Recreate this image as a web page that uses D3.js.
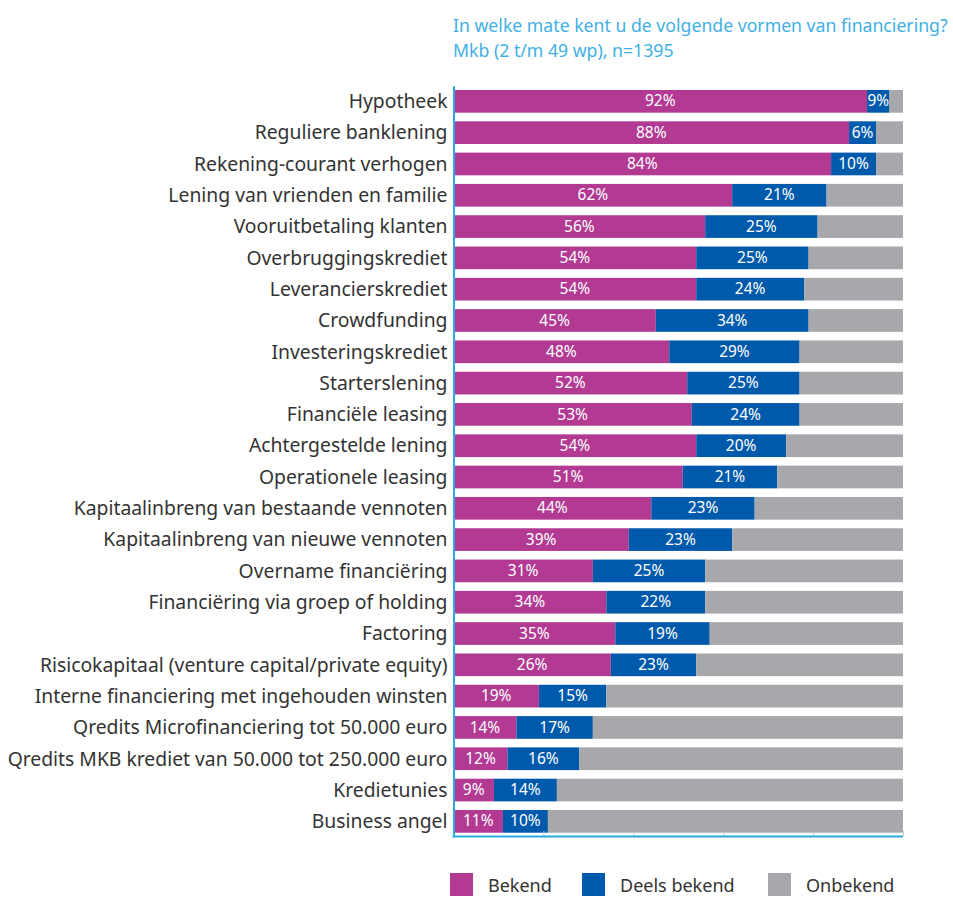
<!DOCTYPE html>
<html><head><meta charset="utf-8">
<script src="https://cdn.jsdelivr.net/npm/d3@7"></script>
<style>body{margin:0;background:#fff}svg{display:block}</style>
</head><body>
<svg id="c" width="953" height="898"></svg>
<script>
const categories = ["Hypotheek","Reguliere banklening","Rekening-courant verhogen","Lening van vrienden en familie","Vooruitbetaling klanten","Overbruggingskrediet","Leverancierskrediet","Crowdfunding","Investeringskrediet","Starterslening","Financiële leasing","Achtergestelde lening","Operationele leasing","Kapitaalinbreng van bestaande vennoten","Kapitaalinbreng van nieuwe vennoten","Overname financiëring","Financiëring via groep of holding","Factoring","Risicokapitaal (venture capital/private equity)","Interne financiering met ingehouden winsten","Qredits Microfinanciering tot 50.000 euro","Qredits MKB krediet van 50.000 tot 250.000 euro","Kredietunies","Business angel"];
// bar lengths as drawn in the picture
const bekend = [92,88,84,62,56,54,54,45,48,52,53,54,51,44,39,31,34,36,35,19,14,12,9,11];
const deels  = [5,6,10,21,25,25,24,34,29,25,24,20,21,23,23,25,22,21,19,15,17,16,14,10];
// printed labels as shown in the picture
const bekendLabels = ["92%","88%","84%","62%","56%","54%","54%","45%","48%","52%","53%","54%","51%","44%","39%","31%","34%","35%","26%","19%","14%","12%","9%","11%"];
const deelsLabels  = ["9%","6%","10%","21%","25%","25%","24%","34%","29%","25%","24%","20%","21%","23%","23%","25%","22%","19%","23%","15%","17%","16%","14%","10%"];
const seriesNames = ["Bekend","Deels bekend","Onbekend"];
const xTicks = [0,20,40,60,80,100];
const titleLines = ["In welke mate kent u de volgende vormen van financiering?","Mkb (2 t/m 49 wp), n=1395"];

const colors = ["#b23a93","#005aab","#a7a8ab"];
const svg = d3.select("#c");
const font = "'Noto Sans', 'Open Sans', sans-serif";

const x = d3.scaleLinear().domain([0,100]).range([453.5,903]);
const y = d3.scaleBand().domain(categories).range([85.7,837]).paddingInner(0.275).paddingOuter(0.1375);

const rows = categories.map((c,i)=>({cat:c, b:bekend[i], d:deels[i], o:100-bekend[i]-deels[i], bl:bekendLabels[i], dl:deelsLabels[i]}));

// title
const tg = svg.append("g");
titleLines.forEach((t,i)=>{
  tg.append("text").attr("x",453).attr("y",32+i*25).attr("fill","#3fb0e4")
    .attr("font-family",font).attr("font-size",17).attr("font-weight",400).text(t);
});
{
  const n = tg.select("text").node(); const w = n.getComputedTextLength();
  const fs = 17*495/w; tg.selectAll("text").attr("font-size",fs);
}

// bars
const g = svg.append("g");
const segs = [];
rows.forEach(r=>{
  segs.push({cat:r.cat,x0:0,x1:r.b,c:0,label:r.bl});
  segs.push({cat:r.cat,x0:r.b,x1:r.b+r.d,c:1,label:r.dl});
  segs.push({cat:r.cat,x0:r.b+r.d,x1:100,c:2,label:null});
});
g.selectAll("rect.seg").data(segs).join("rect").attr("class","seg")
  .attr("x",d=>x(d.x0)).attr("width",d=>x(d.x1)-x(d.x0))
  .attr("y",d=>y(d.cat)).attr("height",y.bandwidth()).attr("fill",d=>colors[d.c]);

g.selectAll("text.lab").data(segs.filter(d=>d.label)).join("text").attr("class","lab")
  .attr("x",d=>(x(d.x0)+x(d.x1))/2).attr("y",d=>y(d.cat)+y.bandwidth()/2)
  .attr("dy","0.33em").attr("text-anchor","middle").attr("fill","#fff")
  .attr("font-family",font).attr("font-size",15.5).attr("font-weight",400).text(d=>d.label);

// axes
const xAxis = svg.append("g").attr("transform","translate(0,836)")
  .call(d3.axisTop(x).tickValues(xTicks).tickSize(5).tickFormat(""));
xAxis.select(".domain").remove();
xAxis.selectAll(".tick line").attr("stroke","#c8c8c8").attr("stroke-width",1);
svg.append("line").attr("x1",x(0)-1).attr("x2",x(100)).attr("y1",836.5).attr("y2",836.5).attr("stroke","#29abe2").attr("stroke-width",2);

const yAxis = svg.append("g").attr("transform","translate(453.5,0)")
  .call(d3.axisLeft(y).tickSize(0).tickPadding(6));
yAxis.select(".domain").attr("stroke","#29abe2").attr("stroke-width",2);
yAxis.selectAll(".tick text").attr("fill","#333").attr("font-family",font).attr("font-size",16.5).attr("dy","0.35em");
{
  let maxW = 0; yAxis.selectAll(".tick text").each(function(){maxW=Math.max(maxW,this.getComputedTextLength());});
  const fs = 16.5*440/maxW; yAxis.selectAll(".tick text").attr("font-size",fs);
}

// legend
const legX = [450,582,768];
const lg = svg.append("g");
seriesNames.forEach((s,i)=>{
  lg.append("rect").attr("x",legX[i]).attr("y",873).attr("width",23).attr("height",23).attr("fill",colors[i]);
  lg.append("text").attr("x",legX[i]+38).attr("y",890).attr("dy","0.1em").attr("fill","#333")
    .attr("font-family",font).attr("font-size",18).text(s);
});
</script>
</body></html>
